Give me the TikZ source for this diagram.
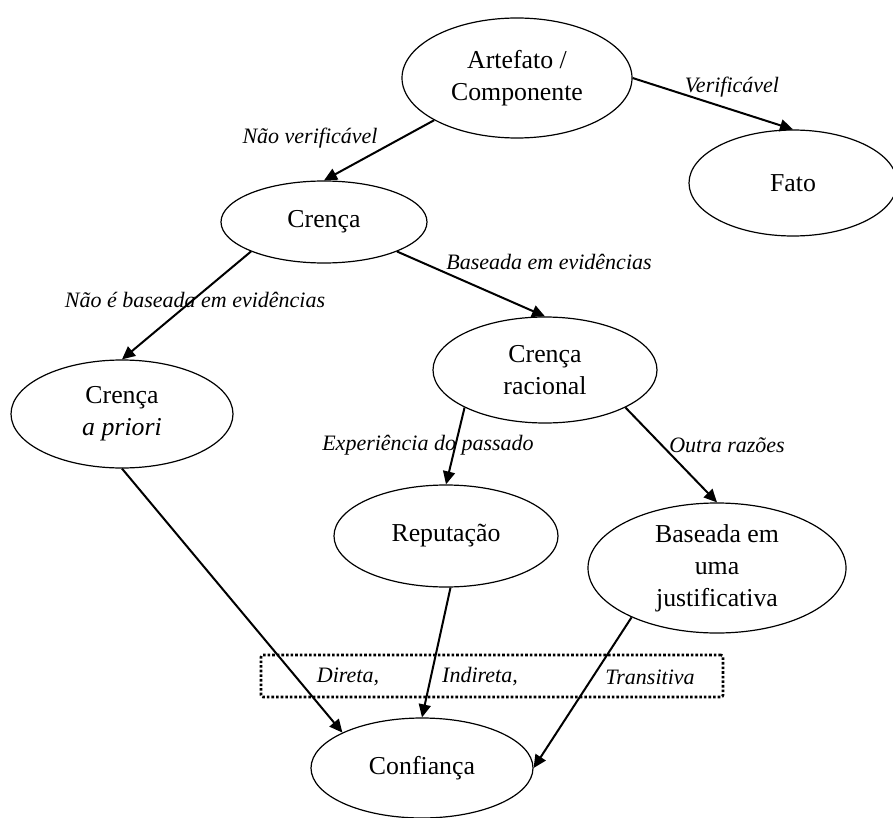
\documentclass[tikz,border=0pt]{standalone}
\usepackage{fontspec}
\setmainfont{Liberation Serif}
\usetikzlibrary{shapes.geometric,arrows.meta}

\begin{document}
\begin{tikzpicture}[
  x=0.5pt, y=-0.5pt,
  font=\fontsize{12.9}{16}\selectfont,
  state/.style={draw, ellipse, line width=0.6pt, inner sep=0pt, align=center},
  lbl/.style={font=\fontsize{11}{13}\selectfont\itshape, inner sep=0pt},
  arr/.style={-{Triangle[length=6.5pt, width=6pt]}, line width=1pt},
  ]
  \useasboundingbox (0,0) rectangle (893,818);

  \node[state, minimum width=115pt, minimum height=60pt] (art) at (517,78) {Artefato /\\ Componente};
  \node[state, minimum width=104pt, minimum height=53pt] (fato) at (793,183) {Fato};
  \node[state, minimum width=103pt, minimum height=41pt] (crenca) at (324,222) {Crença};
  \node[state, minimum width=111pt, minimum height=54pt] (apriori) at (122,414) {Crença\\ \textit{a priori}};
  \node[state, minimum width=112pt, minimum height=53pt] (racional) at (545,370) {Crença\\ racional};
  \node[state, minimum width=112pt, minimum height=51pt] (reputacao) at (446,536) {Reputação};
  \node[state, minimum width=129pt, minimum height=65pt] (baseada) at (717,568) {Baseada em\\ uma\\ justificativa};
  \node[state, minimum width=111pt, minimum height=50pt] (confianca) at (422,768) {Confiança};

  % tipos de confianca
  \node[draw, rounded corners=1pt, line width=1.3pt, dash pattern=on 1.3pt off 1pt,
        minimum width=231pt, minimum height=21pt, inner sep=0pt] (tipos) at (492,676) {};
  \node[lbl] (direta) at (348,677) {Direta,};
  \node[lbl] (indireta) at (480,677) {Indireta,};
  \node[lbl] (transitiva) at (650,677) {Transitiva};

  \node[lbl] (lverif) at (732,87) {Verificável};
  \node[lbl] (lnverif) at (310,138) {Não verificável};
  \node[lbl] (lnbase) at (195,300) {Não é baseada em evidências};
  \node[lbl, anchor=west] (lbase) at (446,262) {Baseada em evidências};
  \node[lbl] (lexp) at (428,445) {Experiência do passado};
  \node[lbl] (loutra) at (727,445) {Outra razões};

  \draw[arr] (art.east) -- (fato.north);
  \draw[arr] (art.207) -- (crenca.north);
  \draw[arr] (crenca.202) -- (apriori.north);
  \draw[arr] (crenca.338) -- (racional.north);
  \draw[arr] (racional.205) -- (reputacao.north);
  \draw[arr] (racional.335) -- (baseada.north);
  \draw[arr] (apriori.south) -- (confianca.156);
  \draw[arr] (reputacao.-85) -- (confianca.north);
  \draw[arr] (baseada.210) -- (confianca.east);
\end{tikzpicture}
\end{document}
